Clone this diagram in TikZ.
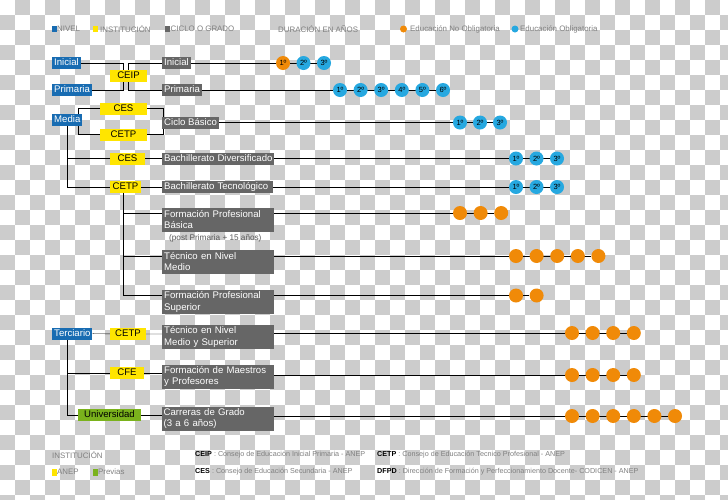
\documentclass[tikz,border=0pt]{standalone}
\usepackage{fontspec}
\setmainfont{Liberation Sans}
\definecolor{nivelblue}{RGB}{24,108,178}
\definecolor{instyellow}{RGB}{255,229,0}
\definecolor{previasgreen}{RGB}{122,178,28}
\definecolor{ciclogray}{RGB}{102,102,102}
\definecolor{oblblue}{RGB}{38,168,224}
\definecolor{noorange}{RGB}{240,138,8}
\definecolor{boardgray}{RGB}{204,204,204}
\definecolor{legendtext}{RGB}{128,128,128}
\pgfdeclarelayer{board}
\pgfdeclarelayer{edges}
\pgfsetlayers{board,edges,main}

\begin{document}
\begin{tikzpicture}[x=1pt, y=-1pt, line width=0.9pt,
  box/.style={inner xsep=2pt, inner ysep=0pt, minimum height=12pt, font=\fontsize{9.6}{11.5}\selectfont},
  nivel/.style={box, fill=nivelblue, text=white, anchor=west, text height=7pt, text depth=2pt},
  inst/.style={box, fill=instyellow, text=black, text height=7pt, text depth=2pt},
  previa/.style={inst, fill=previasgreen},
  ciclo/.style={box, fill=ciclogray, text=white, anchor=west, text height=7pt, text depth=2pt},
  ciclo2/.style={box, fill=ciclogray, text=white, anchor=west, text width=108pt, align=left, minimum height=24pt},
  anio/.style={circle, inner sep=0pt, minimum size=14pt, font=\fontsize{7.5}{8}\selectfont},
  oblig/.style={anio, fill=oblblue},
  noobl/.style={anio, fill=noorange},
  legend/.style={anchor=west, inner sep=0pt, text=legendtext, font=\fontsize{7.9}{9}\selectfont},
  sigla/.style={anchor=west, inner sep=0pt, text=legendtext, font=\fontsize{7.2}{9}\selectfont},
  hint/.style={anchor=west, inner sep=0pt, text=black!65, font=\fontsize{8.2}{9}\selectfont}]
  \useasboundingbox (0,0) rectangle (728,499);
  % checkerboard background
  \begin{pgfonlayer}{board}
    \clip (0,0) rectangle (728,499);
    \fill[white] (0,0) rectangle (728,499);
    \foreach \x in {15,45,...,720} \foreach \y in {0,30,...,480}
      \fill[boardgray] (\x,\y) rectangle ++(15,15);
    \foreach \x in {0,30,...,720} \foreach \y in {15,45,...,495}
      \fill[boardgray] (\x,\y) rectangle ++(15,15);
  \end{pgfonlayer}

  % top legend
  \fill[nivelblue] (52,25.5) rectangle (56.5,32);
  \node[legend] (lgNivel) at (57,29) {NIVEL};
  \fill[instyellow] (93,25.5) rectangle (98,32);
  \node[legend] (lgInst) at (100,29) {INSTITUCIÓN};
  \fill[ciclogray] (165,25.5) rectangle (170,32);
  \node[legend] (lgCiclo) at (170.5,29) {CICLO O GRADO};
  \node[legend] (lgDur) at (278,29) {DURACIÓN EN AÑOS};
  \fill[noorange] (403.5,29) circle (3.5pt);
  \node[legend] (lgNoObl) at (410,29) {Educación No Obligatoria};
  \fill[oblblue] (515,29) circle (3.5pt);
  \node[legend] (lgObl) at (520,29) {Educación Obligatoria};

  % Inicial / Primaria
  \node[nivel] (iniN) at (52,63) {Inicial};
  \node[nivel] (priN) at (52,90) {Primaria};
  \node[inst, minimum width=37pt] (ceip) at (128.5,76) {CEIP};
  \node[ciclo] (iniC) at (162,63) {Inicial};
  \node[ciclo] (priC) at (162,90) {Primaria};
  \node[noobl] (ini1) at (283,63) {1º};
  \node[oblig] (ini2) at (303.5,63) {2º};
  \node[oblig] (ini3) at (324,63) {3º};
  \foreach \i in {1,...,6}
    \node[oblig] (pri\i) at ({340+20.6*(\i-1)},90) {\i{}º};

  % Media
  \node[nivel] (media) at (52,119.5) {Media};
  \node[inst, minimum width=47pt] (cesA) at (123.5,108.5) {CES};
  \node[inst, minimum width=47pt] (cetpA) at (123.5,134.5) {CETP};
  \node[ciclo] (cb) at (162,122.5) {Ciclo Básico};
  \foreach \i in {1,2,3}
    \node[oblig] (cb\i) at ({460+20*(\i-1)},122.5) {\i{}º};
  \node[inst, minimum width=35pt] (cesB) at (127.5,158.5) {CES};
  \node[inst, minimum width=31pt] (cetpB) at (125.5,187) {CETP};
  \node[ciclo, text width=108pt] (bdiv) at (162,158.5) {\mbox{Bachillerato Diversificado}};
  \node[ciclo, text width=107pt] (btec) at (162,187) {\mbox{Bachillerato Tecnológico}};
  \foreach \i in {1,2,3} {
    \node[oblig] (bdiv\i) at ({516+20.5*(\i-1)},158.5) {\i{}º};
    \node[oblig] (btec\i) at ({516+20.5*(\i-1)},187) {\i{}º};
  }
  \node[ciclo2] (fpb) at (162,219.5) {Formación Profesional\\Básica};
  \node[hint] (post) at (169,238) {(post Primaria + 15 años)};
  \node[ciclo2] (tnm) at (162,261.5) {Técnico en Nivel\\Medio};
  \node[ciclo2] (fps) at (162,302) {Formación Profesional\\Superior};
  \foreach \i in {1,2,3}
    \node[noobl] (fpb\i) at ({460+20.6*(\i-1)},213) {};
  \foreach \i in {1,...,5}
    \node[noobl] (tnm\i) at ({516+20.6*(\i-1)},256) {};
  \foreach \i in {1,2}
    \node[noobl] (fps\i) at ({516+20.6*(\i-1)},295.5) {};

  % Terciario
  \node[nivel] (terc) at (52,333.5) {Terciario};
  \node[inst, minimum width=36pt] (cetpC) at (128,334) {CETP};
  \node[ciclo2] (tms) at (162,337) {Técnico en Nivel\\Medio y Superior};
  \node[inst, minimum width=34pt] (cfe) at (127,373) {CFE};
  \node[ciclo2] (fmp) at (162,376.5) {Formación de Maestros\\y Profesores};
  \node[previa, minimum width=63pt] (univ) at (109.5,415) {Universidad};
  \node[ciclo2] (cdg) at (161.5,418.5) {Carreras de Grado\\(3 a 6 años)};
  \foreach \i in {1,...,4} {
    \node[noobl] (tms\i) at ({572+20.6*(\i-1)},333) {};
    \node[noobl] (fmp\i) at ({572+20.6*(\i-1)},375) {};
  }
  \foreach \i in {1,...,6}
    \node[noobl] (cdg\i) at ({572+20.6*(\i-1)},416) {};

  % connectors (behind the boxes)
  \begin{pgfonlayer}{edges}
    \draw (iniN.east) -| ([xshift=-5pt]ceip.north);
    \draw (priN.east) -| ([xshift=-5pt]ceip.south);
    \draw (iniC.west) -| (ceip.north);
    \draw (priC.west) -| (ceip.south);
    \draw (iniC) -- (ini3);
    \draw (priC) -- (pri6);
    \draw (cesA.west) -- ++(-22,0) |- (cetpA.west);
    \draw (cesA.east) -- ++(16,0) |- (cetpA.east);
    \draw (cb) -- (cb3);
    \draw (media.south) |- (cesB);
    \draw (media.south) |- (cetpB);
    \draw (cesB) -- (bdiv) -- (bdiv3);
    \draw (cetpB) -- (btec) -- (btec3);
    \draw ([xshift=-2pt]cetpB.south) |- (fps.west |- fps1);
    \draw ([xshift=-2pt]cetpB.south) |- (fpb.west |- fpb1);
    \draw ([xshift=-2pt]cetpB.south) |- (tnm.west |- tnm1);
    \draw (fpb.east |- fpb1) -- (fpb3);
    \draw (tnm.east |- tnm1) -- (tnm5);
    \draw (fps.east |- fps1) -- (fps2);
    \draw (terc) -- (cetpC) -- (cetpC -| tms.west);
    \draw ([xshift=-5.5pt]terc.south) |- (cfe);
    \draw ([xshift=-5.5pt]terc.south) |- (univ);
    \draw (cfe) -- (cfe -| fmp.west);
    \draw (univ) -- (univ -| cdg.west);
    \draw (tms.east |- tms1) -- (tms4);
    \draw (fmp.east |- fmp1) -- (fmp4);
    \draw (cdg.east |- cdg1) -- (cdg6);
  \end{pgfonlayer}

  % bottom legend
  \node[legend] (lgInst2) at (52,455) {INSTITUCIÓN};
  \fill[instyellow] (52,468.5) rectangle (56.5,475.5);
  \node[legend] (lgAnep) at (57,472) {ANEP};
  \fill[previasgreen] (93,468.5) rectangle (97.5,475.5);
  \node[legend] (lgPrev) at (98,472) {Previas};
  \node[sigla] (sgCeip) at (195,455) {{\color{black}\bfseries CEIP} : Consejo de Educación Inicial Primaria - ANEP};
  \node[sigla] (sgCes) at (195,472) {{\color{black}\bfseries CES} : Consejo de Educación Secundaria - ANEP};
  \node[sigla] (sgCetp) at (377,455) {{\color{black}\bfseries CETP} : Consejo de Educación Tecnico Profesional - ANEP};
  \node[sigla] (sgDfpd) at (377,472) {{\color{black}\bfseries DFPD} : Dirección de Formación y Perfeccionamiento Docente- CODICEN - ANEP};
\end{tikzpicture}
\end{document}
